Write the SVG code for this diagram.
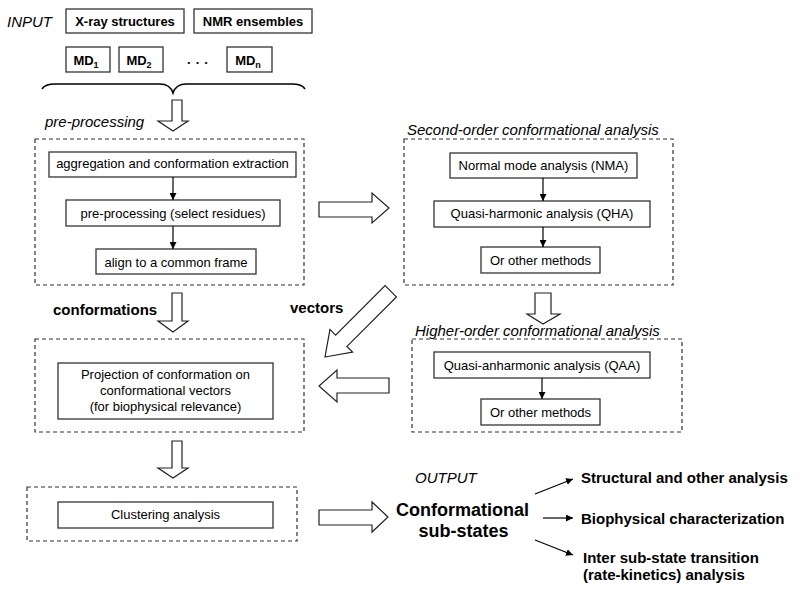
<svg xmlns="http://www.w3.org/2000/svg" width="800" height="593" viewBox="0 0 800 593">
<defs>
<marker id="ah" viewBox="0 0 10 10" refX="10" refY="5" markerWidth="7" markerHeight="7" markerUnits="userSpaceOnUse" orient="auto">
<path d="M0,0 L10,5 L0,10 z" fill="#000"/>
</marker>
</defs>
<style>
text{font-family:"Liberation Sans",Arial,sans-serif;fill:#000}
.box{fill:#fff;stroke:#333;stroke-width:1.3}
.dash{fill:none;stroke:#333;stroke-width:1.2;stroke-dasharray:4,3}
.t{font-size:13px;text-anchor:middle}
.tb{font-size:13px;font-weight:bold;text-anchor:middle}
.it{font-size:15px;font-style:italic}
.b15{font-size:15px;font-weight:bold}
.hollow{fill:#fff;stroke:#222;stroke-width:1.2;stroke-linejoin:miter}
.con{stroke:#000;stroke-width:1.2;fill:none;marker-end:url(#ah)}
</style>
<rect width="800" height="593" fill="#fff"/>

<g id="input">
<text class="it" x="7" y="27">INPUT</text>
</g>
<g id="xray"><rect class="box" x="66" y="9" width="118" height="24"/><text class="tb" x="125" y="26">X-ray structures</text></g>
<g id="nmr"><rect class="box" x="194" y="9" width="118" height="24"/><text class="tb" x="253" y="26">NMR ensembles</text></g>
<g id="md1"><rect class="box" x="66" y="47" width="44" height="25"/><text class="tb" x="86" y="65">MD<tspan font-size="9" dy="3">1</tspan></text></g>
<g id="md2"><rect class="box" x="119" y="47" width="44" height="25"/><text class="tb" x="139" y="65">MD<tspan font-size="9" dy="3">2</tspan></text></g>
<g id="dots"><text class="tb" x="200" y="64" letter-spacing="5">...</text></g>
<g id="mdn"><rect class="box" x="227" y="47" width="45" height="25"/><text class="tb" x="248" y="65">MD<tspan font-size="9" dy="3">n</tspan></text></g>
<g id="brace"><path d="M42,89 Q45,84 55,84 L160,84 Q170,84 173,93 Q176,84 186,84 L292,84 Q302,84 305,89" fill="none" stroke="#000" stroke-width="1.6"/></g>

<g id="preproc">
<text class="it" x="45" y="127">pre-processing</text>
<rect class="dash" x="35" y="139" width="269" height="146"/>
</g>
<g id="aggr"><rect class="box" x="49" y="152" width="247" height="25"/><text class="t" x="172.5" y="168">aggregation and conformation extraction</text></g>
<g id="select"><rect class="box" x="66" y="200" width="214" height="26"/><text class="t" x="173" y="218">pre-processing (select residues)</text></g>
<g id="align"><rect class="box" x="96" y="249" width="160" height="25"/><text class="t" x="176" y="267">align to a common frame</text></g>

<g id="second">
<text class="it" x="407" y="135">Second-order conformational analysis</text>
<rect class="dash" x="404" y="139" width="269" height="146"/>
</g>
<g id="nma"><rect class="box" x="450" y="153" width="187" height="25"/><text class="t" x="543.5" y="170">Normal mode analysis (NMA)</text></g>
<g id="qha"><rect class="box" x="434" y="201" width="216" height="26"/><text class="t" x="542" y="218">Quasi-harmonic analysis (QHA)</text></g>
<g id="other1"><rect class="box" x="481" y="247" width="119" height="26"/><text class="t" x="540.5" y="265">Or other methods</text></g>

<g id="higher">
<text class="it" x="415" y="336">Higher-order conformational analysis</text>
<rect class="dash" x="412" y="339" width="270" height="93"/>
</g>
<g id="qaa"><rect class="box" x="434" y="352" width="216" height="26"/><text class="t" x="542" y="370">Quasi-anharmonic analysis (QAA)</text></g>
<g id="other2"><rect class="box" x="481" y="399" width="119" height="26"/><text class="t" x="540.5" y="417">Or other methods</text></g>

<g id="projection">
<rect class="dash" x="35" y="339" width="269" height="93"/>
<rect class="box" x="58" y="363" width="215" height="56"/>
<text class="t" x="165.5" y="379">Projection of conformation on</text>
<text class="t" x="165.5" y="395">conformational vectors</text>
<text class="t" x="165.5" y="411">(for biophysical relevance)</text>
</g>

<g id="clustering">
<rect class="dash" x="27" y="487" width="270" height="54"/>
<rect class="box" x="58" y="502" width="215" height="26"/>
<text class="t" x="165.5" y="519">Clustering analysis</text>
</g>

<g id="output">
<text class="it" x="415" y="483">OUTPUT</text>
<text font-size="18" font-weight="bold" text-anchor="middle" x="462.5" y="516">Conformational</text>
<text font-size="18" font-weight="bold" text-anchor="middle" x="463.5" y="537">sub-states</text>
</g>
<g id="structural"><text class="b15" x="581" y="483">Structural and other analysis</text></g>
<g id="biophys"><text class="b15" x="581" y="524">Biophysical characterization</text></g>
<g id="inter"><text class="b15" x="583" y="563">Inter sub-state transition</text><text class="b15" x="583" y="580">(rate-kinetics) analysis</text></g>

<g id="labels">
<text class="b15" x="53" y="315">conformations</text>
<text class="b15" x="290" y="313">vectors</text>
</g>

<g id="connectors">
<line class="con" x1="173" y1="177" x2="173" y2="200"/>
<line class="con" x1="173" y1="226" x2="173" y2="249"/>
<line class="con" x1="543" y1="178" x2="543" y2="201"/>
<line class="con" x1="543" y1="227" x2="543" y2="247"/>
<line class="con" x1="542" y1="378" x2="542" y2="399"/>
<line class="con" x1="535" y1="494" x2="573" y2="479"/>
<line class="con" x1="543" y1="518" x2="573" y2="518"/>
<line class="con" x1="535" y1="540" x2="573" y2="555"/>
<!-- hollow arrows -->
<polygon class="hollow" points="172,100 182,100 182,121 188,121 173,131 158,121 172,121"/>
<polygon class="hollow" points="172,293 182,293 182,321 188,321 173,332 158,321 172,321"/>
<polygon class="hollow" points="172,441 182,441 182,468 188,468 173,478 158,468 172,468"/>
<polygon class="hollow" points="319,202 372,202 372,193 389,208 372,223 372,217 319,217"/>
<polygon class="hollow" points="319,510 372,510 372,502 388,517 372,532 372,525 319,525"/>
<polygon class="hollow" points="389,378 337,378 337,370 319,386 337,402 337,393 389,393"/>
<polygon class="hollow" points="535,293 551,293 551,314 560,314 543,324 527,314 535,314"/>
<polygon class="hollow" transform="translate(325,357) rotate(135)" points="0,0 -23,-16 -23,-8 -93,-8 -93,8 -23,8 -23,16"/>
</g>
</svg>
